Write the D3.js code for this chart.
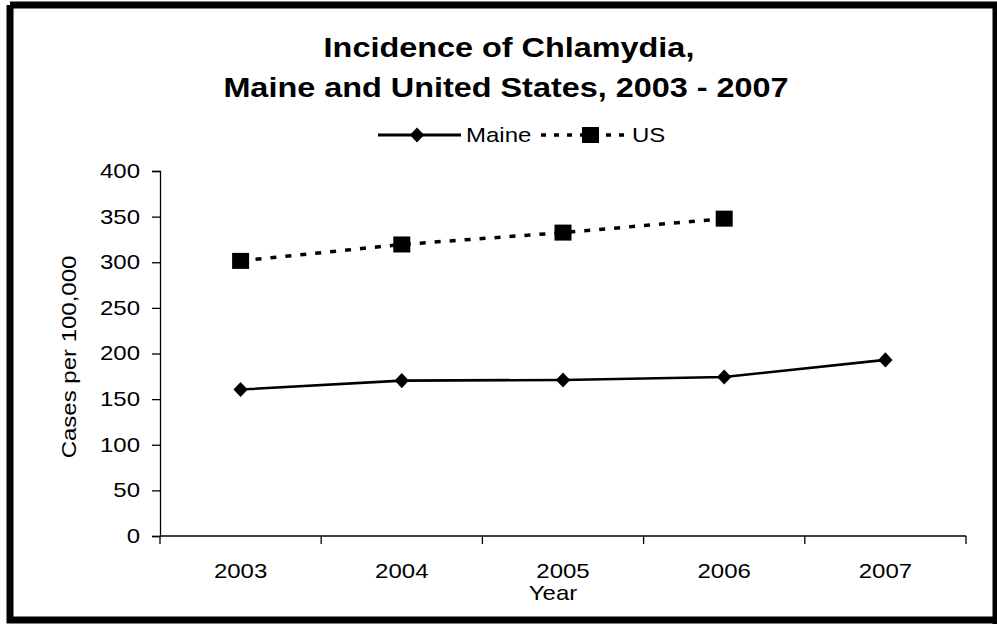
<!DOCTYPE html>
<html>
<head>
<meta charset="utf-8">
<script src="https://cdn.jsdelivr.net/npm/d3@7"></script>
<style>
  body { margin: 0; background: #fff; }
  svg { display: block; font-family: "Liberation Sans", Arial, sans-serif; }
</style>
</head>
<body>
<svg id="canvas"></svg>
<script>
let years = ['2003', '2004', '2005', '2006', '2007'];
let maineValues = [160.5, 170.3, 171.0, 174.3, 193.0];
let usYears = ['2003', '2004', '2005', '2006'];
let usValues = [301.5, 319.5, 332.5, 347.8];
let yTicks = [0, 50, 100, 150, 200, 250, 300, 350, 400];

let width = 997;
let height = 624;
let plotLeft = 160, plotRight = 966, plotTop = 171, plotBottom = 536;
let stretch = 1.2; // the source font runs a little wide
let fontFam = '"Liberation Sans", Arial, sans-serif';

let canvas = d3.select('#canvas').attr('width', width).attr('height', height);

// frame
canvas.append('path')
  .attr('d', 'M10,5H997M10,5V620H997')
  .attr('fill', 'none').attr('stroke', '#000').attr('stroke-width', 7);
canvas.append('line').attr('x1', 995).attr('x2', 995).attr('y1', 2).attr('y2', 624)
  .attr('stroke', '#000').attr('stroke-width', 5);

let xScale = d3.scaleBand().domain(years).range([plotLeft, plotRight]);
let yScale = d3.scaleLinear().domain([0, 400]).range([plotBottom, plotTop]);

let xPos = d => xScale(d) + xScale.bandwidth() / 2;

let addText = (x, y, str, size, opts) => {
  opts = opts || {};
  let g = canvas.append('g').attr('transform', 'translate(' + x + ',' + y + ')' + (opts.rotate ? ' rotate(' + opts.rotate + ')' : '') + ' scale(' + stretch + ',1)');
  return g.append('text')
    .attr('text-anchor', opts.anchor || 'middle')
    .attr('font-size', size)
    .attr('font-weight', opts.bold ? 'bold' : 'normal')
    .attr('fill', '#000')
    .text(str);
};

// title
addText(509, 57, 'Incidence of Chlamydia,', 27, { bold: true });
addText(506, 97, 'Maine and United States, 2003 - 2007', 27, { bold: true });

// axes
let yAxis = d3.axisLeft(yScale).tickValues(yTicks).tickSize(8).tickPadding(12);
let gy = canvas.append('g').attr('transform', 'translate(' + plotLeft + ',0)').call(yAxis);
gy.selectAll('text')
  .attr('font-size', 20).attr('font-family', fontFam).attr('fill', '#000')
  .attr('x', -20 / stretch).attr('transform', 'scale(' + stretch + ',1)');
gy.selectAll('line,path').attr('stroke', '#000').attr('stroke-width', 1.3);

let xAxis = d3.axisBottom(xScale).tickSize(0).tickPadding(28);
let gx = canvas.append('g').attr('transform', 'translate(0,' + plotBottom + ')').call(xAxis);
gx.select('.domain').attr('d', 'M' + plotLeft + ',0H' + plotRight).attr('stroke', '#000').attr('stroke-width', 1.3);
gx.selectAll('text')
  .attr('font-size', 20).attr('font-family', fontFam).attr('fill', '#000')
  .attr('transform', 'scale(' + stretch + ',1)');

// category boundary ticks
canvas.append('g').selectAll('line')
  .data(years.concat(['end']))
  .enter().append('line')
  .attr('x1', (d, i) => i < years.length ? xScale(d) : plotRight)
  .attr('x2', (d, i) => i < years.length ? xScale(d) : plotRight)
  .attr('y1', plotBottom).attr('y2', plotBottom + 8)
  .attr('stroke', '#000').attr('stroke-width', 1.3);

addText(553, 600, 'Year', 20);
addText(76, 357, 'Cases per 100,000', 20, { rotate: -90 });

// series
let maineData = years.map((y, i) => ({ year: y, value: maineValues[i] }));
let usData = usYears.map((y, i) => ({ year: y, value: usValues[i] }));

let line = d3.line().x(d => xPos(d.year)).y(d => yScale(d.value));

canvas.append('path').datum(usData).attr('d', line)
  .attr('fill', 'none').attr('stroke', '#000').attr('stroke-width', 3.5).attr('stroke-dasharray', '6,9');
canvas.append('path').datum(maineData).attr('d', line)
  .attr('fill', 'none').attr('stroke', '#000').attr('stroke-width', 2.6);

let diamond = d3.symbol().type(d3.symbolDiamond2).size(145);
canvas.selectAll('.maine').data(maineData).enter().append('path')
  .attr('class', 'maine')
  .attr('transform', d => 'translate(' + xPos(d.year) + ',' + yScale(d.value) + ') scale(0.95,1)')
  .attr('d', diamond).attr('fill', '#000');

canvas.selectAll('.us').data(usData).enter().append('rect')
  .attr('class', 'us')
  .attr('x', d => xPos(d.year) - 8.5).attr('y', d => yScale(d.value) - 8)
  .attr('width', 17).attr('height', 16).attr('fill', '#000');

// legend
let legY = 135;
canvas.append('line').attr('x1', 378).attr('x2', 461).attr('y1', legY).attr('y2', legY)
  .attr('stroke', '#000').attr('stroke-width', 3);
canvas.append('path').attr('transform', 'translate(417,' + legY + ') scale(0.95,1)').attr('d', diamond).attr('fill', '#000');
addText(466, legY + 7, 'Maine', 20, { anchor: 'start' });
canvas.append('line').attr('x1', 541).attr('x2', 630).attr('y1', legY).attr('y2', legY)
  .attr('stroke', '#000').attr('stroke-width', 3.5).attr('stroke-dasharray', '5,8');
canvas.append('rect').attr('x', 582).attr('y', legY - 8).attr('width', 17).attr('height', 16).attr('fill', '#000');
addText(632, legY + 7, 'US', 20, { anchor: 'start' });
</script>
</body>
</html>
